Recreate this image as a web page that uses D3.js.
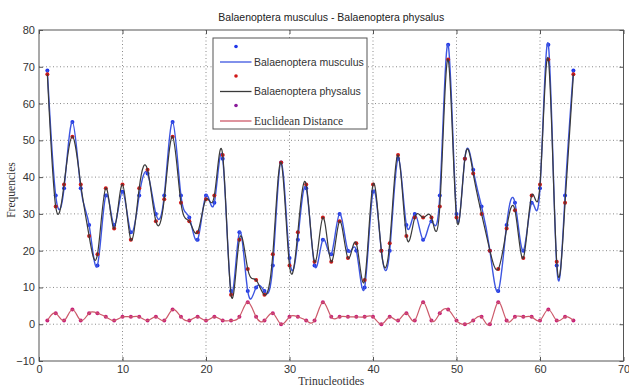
<!DOCTYPE html>
<html>
<head>
<meta charset="utf-8">
<script src="https://cdn.jsdelivr.net/npm/d3@7"></script>
<style>
  html, body { margin: 0; padding: 0; background: #fff; }
  svg { display: block; }
</style>
</head>
<body>
<svg id="chart" width="629" height="387"></svg>
<script>
// values, one per trinucleotide (1..64)
const musculus = [69, 35, 37, 55, 37, 27, 16, 35, 27, 36, 25, 35, 41, 30, 35, 55,
  35, 29, 23, 35, 33, 45, 9, 25, 9, 10, 9, 16, 44, 18, 23, 37,
  16, 23, 19, 30, 20, 20, 10, 36, 20, 20, 45, 27, 30, 23, 28, 35,
  76, 30, 45, 42, 32, 20, 9, 27, 33, 20, 33, 37, 76, 16, 35, 69];
const physalus = [68, 32, 38, 51, 38, 24, 19, 37, 26, 38, 23, 37, 42, 28, 34, 51,
  33, 28, 25, 34, 35, 46, 8, 23, 15, 12, 8, 19, 44, 16, 25, 38,
  17, 29, 17, 28, 18, 22, 12, 38, 20, 22, 46, 24, 29, 29, 29, 32,
  72, 29, 45, 41, 30, 20, 15, 26, 31, 18, 35, 38, 72, 17, 33, 68];
const euclidean = [1, 3, 1, 4, 1, 3, 3, 2, 1, 2, 2, 2, 1, 2, 1, 4,
  2, 1, 2, 1, 2, 1, 1, 2, 6, 2, 1, 3, 0, 2, 2, 1,
  1, 6, 2, 2, 2, 2, 2, 2, 0, 2, 1, 3, 1, 6, 1, 3,
  4, 1, 0, 1, 2, 0, 6, 1, 2, 2, 2, 1, 4, 1, 2, 1];
const xTicks = [0, 10, 20, 30, 40, 50, 60, 70];
const yTicks = [-10, 0, 10, 20, 30, 40, 50, 60, 70, 80];
const seriesNames = ["Balaenoptera musculus", "Balaenoptera physalus", "Euclidean Distance"];
const chartTitle = "Balaenoptera musculus - Balaenoptera physalus";

const width = 629, height = 387;
const margin = { top: 30, right: 5.5, bottom: 26, left: 39 };
const innerW = width - margin.left - margin.right;
const innerH = height - margin.top - margin.bottom;

const svg = d3.select("#chart");
const root = svg.append("g").attr("transform", `translate(${margin.left},${margin.top})`);

const x = d3.scaleLinear().domain([0, 70]).range([0, innerW]);
const y = d3.scaleLinear().domain([-10, 80]).range([innerH, 0]);

// dotted grid
const grid = root.append("g").attr("class", "grid");
grid.selectAll("line.gx").data(xTicks.slice(1, -1)).join("line")
  .attr("class", "gx")
  .attr("x1", (d) => x(d)).attr("x2", (d) => x(d))
  .attr("y1", 0).attr("y2", innerH);
grid.selectAll("line.gy").data(yTicks.slice(1, -1)).join("line")
  .attr("class", "gy")
  .attr("x1", 0).attr("x2", innerW)
  .attr("y1", (d) => y(d)).attr("y2", (d) => y(d));
grid.selectAll("line")
  .attr("stroke", "#8a8a8a")
  .attr("stroke-width", 1)
  .attr("stroke-dasharray", "1,2.5");

// axes, ticks pointing inward
const gx = root.append("g").attr("transform", `translate(0,${innerH})`)
  .call(d3.axisBottom(x).tickValues(xTicks).tickSizeInner(-4).tickSizeOuter(0).tickPadding(4));
const gxTop = root.append("g")
  .call(d3.axisTop(x).tickValues(xTicks).tickSizeInner(-4).tickSizeOuter(0).tickFormat(""));
const gy = root.append("g")
  .call(d3.axisLeft(y).tickValues(yTicks).tickSizeInner(-4).tickSizeOuter(0).tickPadding(4));
const gyRight = root.append("g").attr("transform", `translate(${innerW},0)`)
  .call(d3.axisRight(y).tickValues(yTicks).tickSizeInner(-4).tickSizeOuter(0).tickFormat(""));

[gx, gxTop, gy, gyRight].forEach((g) => {
  g.select(".domain").remove();
  g.selectAll("line").attr("stroke", "#555");
  g.selectAll("text")
    .attr("fill", "#333")
    .style("font-family", "'Liberation Sans', Arial, sans-serif")
    .style("font-size", "11px");
});

root.append("rect")
  .attr("width", innerW).attr("height", innerH)
  .attr("fill", "none").attr("stroke", "#555").attr("stroke-width", 1);

// series
const idx = d3.range(1, 65);
const line = (vals) => d3.line().x((d) => x(d)).y((d, i) => y(vals[i])).curve(d3.curveNatural)(idx);

const marks = root.append("g").attr("class", "marks");

function dots(vals, color, r) {
  marks.append("g").selectAll("circle").data(idx).join("circle")
    .attr("cx", (d) => x(d))
    .attr("cy", (d, i) => y(vals[i]))
    .attr("r", r)
    .attr("fill", color);
}

dots(musculus, "#1f35e8", 2);
marks.append("path").attr("d", line(musculus))
  .attr("fill", "none").attr("stroke", "#3d55e0").attr("stroke-width", 1.4);
dots(physalus, "#d01818", 2);
marks.append("path").attr("d", line(physalus))
  .attr("fill", "none").attr("stroke", "#3a3a3a").attr("stroke-width", 1.2);
dots(euclidean, "#c8207a", 2);
marks.append("path").attr("d", line(euclidean))
  .attr("fill", "none").attr("stroke", "#cc5a6a").attr("stroke-width", 1.2);

// legend
const legend = svg.append("g").attr("transform", "translate(213,38)");
legend.append("rect").attr("width", 154).attr("height", 91)
  .attr("fill", "#fff").attr("stroke", "#555").attr("stroke-width", 1);
const legendRows = [
  { dot: "#1f35e8", line: "#3d55e0", font: "'Liberation Sans', Arial, sans-serif", size: 10.5 },
  { dot: "#d01818", line: "#3a3a3a", font: "'Liberation Sans', Arial, sans-serif", size: 10.5 },
  { dot: "#8a1a9a", line: "#cc5a6a", font: "'Liberation Serif', 'Times New Roman', serif", size: 11.5 },
];
legendRows.forEach((row, i) => {
  const top = 8.5 + i * 29.5;
  legend.append("circle").attr("cx", 23).attr("cy", top).attr("r", 1.8).attr("fill", row.dot);
  legend.append("line")
    .attr("x1", 7).attr("x2", 38.5)
    .attr("y1", top + 15.5).attr("y2", top + 15.5)
    .attr("stroke", row.line).attr("stroke-width", 1.3);
  legend.append("text")
    .attr("x", 41).attr("y", top + 15.5).attr("dy", "0.35em")
    .attr("fill", "#333")
    .style("font-family", row.font)
    .style("font-size", `${row.size}px`)
    .text(seriesNames[i]);
});

// titles
svg.append("text")
  .attr("x", margin.left + innerW / 2).attr("y", 21)
  .attr("text-anchor", "middle").attr("fill", "#222")
  .style("font-family", "'Liberation Sans', Arial, sans-serif").style("font-size", "10.5px")
  .text(chartTitle);
svg.append("text")
  .attr("x", margin.left + innerW / 2).attr("y", 385)
  .attr("text-anchor", "middle").attr("fill", "#333")
  .style("font-family", "'Liberation Serif', 'Times New Roman', serif").style("font-size", "11.5px")
  .text("Trinucleotides");
svg.append("text")
  .attr("transform", "translate(15,190) rotate(-90)")
  .attr("text-anchor", "middle").attr("fill", "#333")
  .style("font-family", "'Liberation Serif', 'Times New Roman', serif").style("font-size", "11.5px")
  .text("Frequencies");
</script>
</body>
</html>
